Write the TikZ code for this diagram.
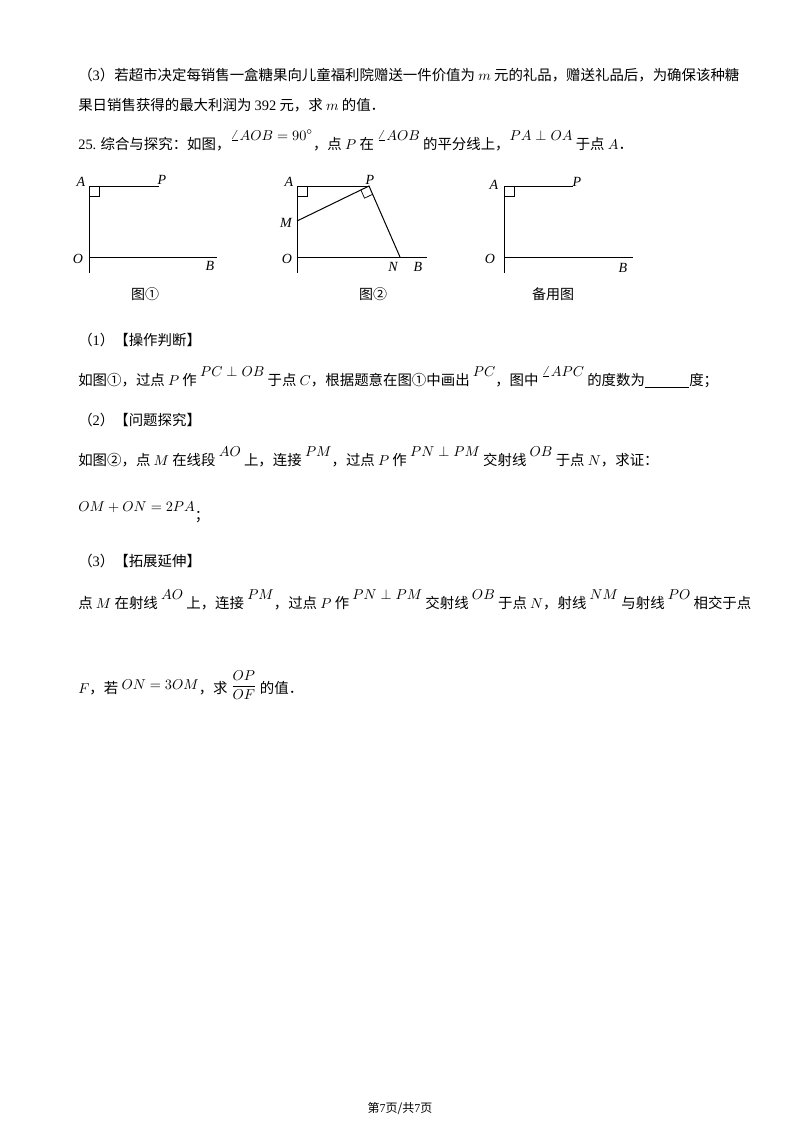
\documentclass[tikz,border=0pt]{standalone}
\usepackage{amsmath}
\usepackage{fontspec}
\usetikzlibrary{calc}
\setmainfont{Noto Sans CJK SC}
\newfontfamily\lat{Liberation Serif}
\begin{document}
\begin{tikzpicture}[x=0.7pt,y=-0.7pt,
  txt/.style={anchor=base west,inner sep=0pt,font=\fontsize{10.1}{12}\selectfont},
  lbl/.style={inner sep=0pt,font=\fontsize{9.8}{11}\selectfont\lat\itshape},
  capt/.style={inner sep=0pt,font=\fontsize{9.8}{11}\selectfont},
  ln/.style={line width=0.7pt}]
\useasboundingbox (0,0) rectangle (800,1132);
\newcommand\up[1]{\raisebox{6.3pt}{$#1$}}
\node[txt] (t1) at (78,80) {（{\lat 3}）若超市决定每销售一盒糖果向儿童福利院赠送一件价值为 $m$ 元的礼品，赠送礼品后，为确保该种糖};
\node[txt] (t2) at (78,110) {果日销售获得的最大利润为 {\lat 392} 元，求 $m$ 的值．};
\node[txt] (t3) at (78,149) {{\lat 25.} 综合与探究：如图，\up{\angle AOB=90^\circ}，点 $P$ 在 \up{\angle AOB} 的平分线上，\up{PA\perp OA} 于点 $A$．};
% fig 1
\coordinate (a1) at (89,186); \coordinate (o1) at (89,257);
\draw[ln] (89,273) -- (a1) -- (159,186);
\draw[ln] (o1) -- (217,257);
\draw[line width=0.5pt] (89,196) -- (99,196) -- (99,186);
\node[lbl] (la1) at (81,182) {A}; \node[lbl] (lp1) at (162,180) {P};
\node[lbl] (lo1) at (78,259) {O}; \node[lbl] (lb1) at (210,266) {B};
\node[capt] (c1) at (145,294) {图①};
% fig 2
\coordinate (a2) at (297,186); \coordinate (o2) at (297,257);
\coordinate (p2) at (369,186); \coordinate (m2) at (297,221); \coordinate (n2) at (400,257);
\draw[ln] (297,273) -- (a2) -- (p2);
\draw[ln] (o2) -- (427,257);
\draw[ln] (m2) -- (p2) -- (n2);
\draw[line width=0.5pt] (297,196) -- (307,196) -- (307,186);
\draw[line width=0.5pt] ($(p2)!6.3pt!(m2)$) -- ($(p2)!6.3pt!(m2)+(p2)!6.3pt!(n2)-(p2)$) -- ($(p2)!6.3pt!(n2)$);
\node[lbl] (la2) at (289,182) {A}; \node[lbl] (lp2) at (370,180) {P};
\node[lbl] (lm2) at (286,223) {M};
\node[lbl] (lo2) at (287,259) {O}; \node[lbl] (ln2) at (393,267) {N}; \node[lbl] (lb2) at (418,267) {B};
\node[capt] (c2) at (373,294) {图②};
% fig 3
\coordinate (a3) at (504,186); \coordinate (o3) at (504,257);
\draw[ln] (504,273) -- (a3) -- (573,186);
\draw[ln] (o3) -- (633,257);
\draw[line width=0.5pt] (504,196) -- (514,196) -- (514,186);
\node[lbl] (la3) at (494,185) {A}; \node[lbl] (lp3) at (577,182) {P};
\node[lbl] (lo3) at (490,259) {O}; \node[lbl] (lb3) at (623,268) {B};
\node[capt] (c3) at (553,294) {备用图};
% text
\node[txt] (t4) at (78,345) {（{\lat 1}）【操作判断】};
\node[txt] (t5) at (78,385) {如图①，过点 $P$ 作 \up{PC\perp OB} 于点 $C$，根据题意在图①中画出 \up{PC}，图中 \up{\angle APC} 的度数为\underline{\hspace{31pt}}度；};
\node[txt] (t6) at (78,425) {（{\lat 2}）【问题探究】};
\node[txt] (t7) at (78,465) {如图②，点 $M$ 在线段 \up{AO} 上，连接 \up{PM}，过点 $P$ 作 \up{PN\perp PM} 交射线 \up{OB} 于点 $N$，求证：};
\node[txt] (t8) at (78,520) {\up{OM+ON=2PA}；};
\node[txt] (t9) at (78,566) {（{\lat 3}）【拓展延伸】};
\node[txt] (t10) at (78,608) {点 $M$ 在射线 \up{AO} 上，连接 \up{PM}，过点 $P$ 作 \up{PN\perp PM} 交射线 \up{OB} 于点 $N$，射线 \up{NM} 与射线 \up{PO} 相交于点};
\node[txt] (t11) at (78,693) {$F$，若 \raisebox{2.8pt}{$ON=3OM$}，求 \raisebox{2pt}{$\dfrac{OP}{OF}$} 的值．};
\node[capt,font=\fontsize{8.4}{10}\selectfont] (ft) at (400,1108) {第{\lat 7}页/共{\lat 7}页};
\end{tikzpicture}
\end{document}
